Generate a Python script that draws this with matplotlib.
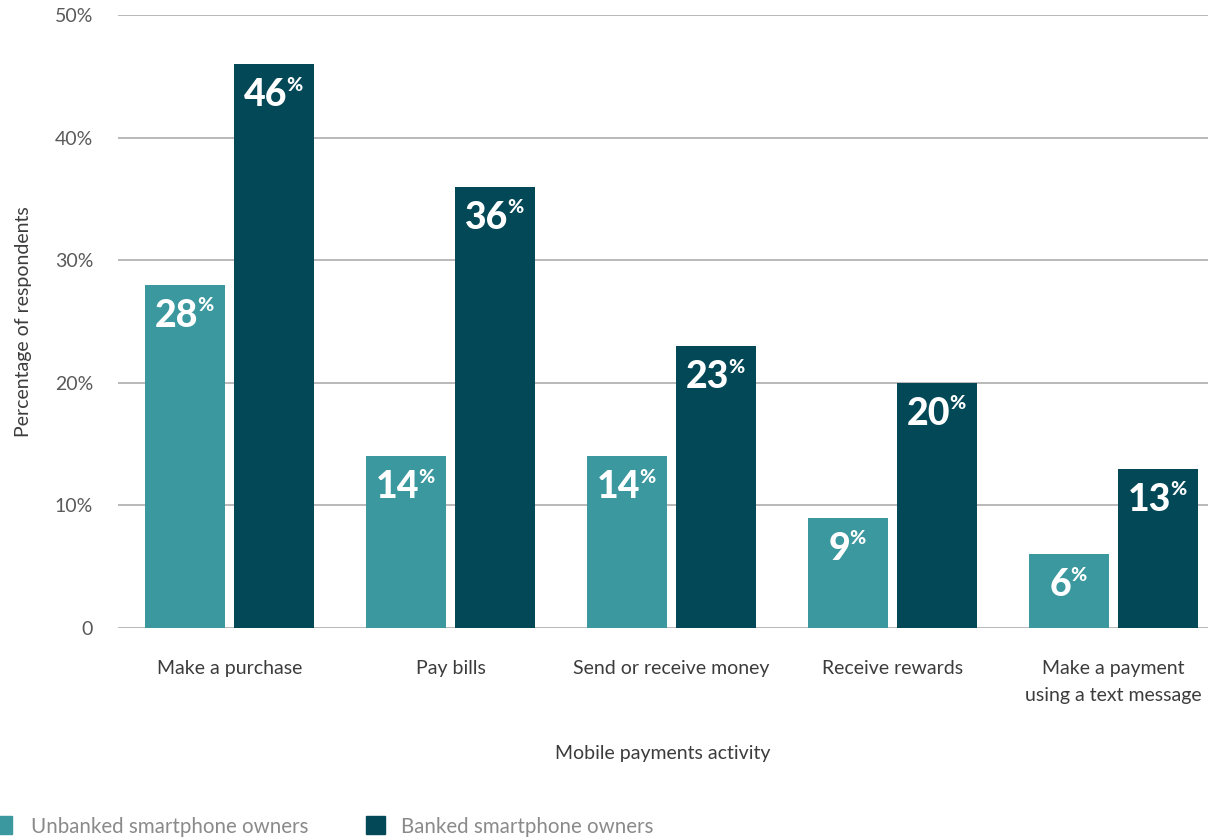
import numpy as np
import matplotlib.pyplot as plt
from matplotlib.patches import Rectangle

# survey results, share of respondents (%)
activities = ["Make a purchase", "Pay bills", "Send or receive money",
              "Receive rewards", "Make a payment\nusing a text message"]
unbanked = [28, 14, 14, 9, 6]
banked = [46, 36, 23, 20, 13]
series_names = ["Unbanked smartphone owners", "Banked smartphone owners"]
yticks = [0, 10, 20, 30, 40, 50]
ytick_labels = ["0", "10%", "20%", "30%", "40%", "50%"]

light = "#3A989E"
dark = "#034857"
plt.rcParams["font.family"] = ["Lato", "DejaVu Sans"]

fig = plt.figure(figsize=(12.08, 8.38), dpi=100)
ax = fig.add_axes([118 / 1208, 210 / 838, 1090 / 1208, 613 / 838])

x = np.arange(len(activities))
w = 80 / 221
off = 44.5 / 221
ax.bar(x - off, unbanked, w, color=light, zorder=3)
ax.bar(x + off, banked, w, color=dark, zorder=3)

ax.set_ylim(0, 50)
ax.set_xlim(-111.5 / 221, (1208 - 229.5) / 221)
ax.set_yticks(yticks)
ax.set_yticklabels(ytick_labels)
ax.yaxis.grid(True, color="#a6a6a6", linewidth=1.1, zorder=0)
ax.set_axisbelow(True)
for s in ax.spines.values():
    s.set_visible(False)
ax.tick_params(axis="y", length=0, pad=18, labelsize=14, labelcolor="#5a5a5a")
ax.tick_params(axis="x", length=0, pad=23, labelsize=14, labelcolor="#3c3c3c")
ax.set_xticks(x)
ax.set_xticklabels(activities, linespacing=1.75, va="top")
ax.set_xlabel("Mobile payments activity", fontsize=14, color="#3c3c3c", labelpad=29)
ax.set_ylabel("Percentage of respondents", fontsize=14, color="#3c3c3c", labelpad=16)


def value_label(xpos, val):
    t = ax.annotate(f"{val}", (xpos, val), xytext=(-6, -10), textcoords="offset points",
                    ha="center", va="top", color="white", fontsize=27, fontweight="black",
                    zorder=4)
    ax.annotate("%", (1, 1), xycoords=t, xytext=(-1, 1), textcoords="offset points",
                ha="left", va="top", color="white", fontsize=14, fontweight="black",
                zorder=4)


for i in range(len(activities)):
    value_label(x[i] - off, unbanked[i])
    value_label(x[i] + off, banked[i])

# legend along the bottom edge
for sx, col, name, tx in [(-7, light, series_names[0], 31), (366, dark, series_names[1], 401)]:
    fig.add_artist(Rectangle((sx / 1208, (838 - 834) / 838), 19 / 1208, 18 / 838,
                             transform=fig.transFigure, color=col))
    fig.text(tx / 1208, (838 - 833) / 838, name, fontsize=14.8, color="#8a8a8a",
             ha="left", va="baseline")

plt.savefig("out.png", dpi=100)
